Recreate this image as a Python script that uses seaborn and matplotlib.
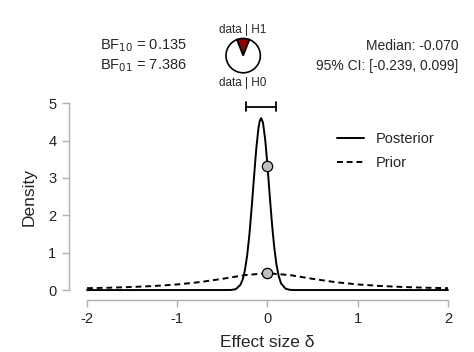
import matplotlib

matplotlib.use("Agg")
import matplotlib.pyplot as plt
import pandas as pd
import seaborn as sns

# posterior density
post_x = [-2.0, -1.0, -0.5, -0.4, -0.35, -0.3, -0.275, -0.25, -0.225, -0.2, -0.175, -0.15,
          -0.125, -0.1, -0.085, -0.07, -0.05, -0.025, 0.0, 0.025, 0.05, 0.075, 0.1, 0.125,
          0.15, 0.2, 0.25, 0.3, 0.5, 1.0, 2.0]
post_y = [0.0, 0.0, 0.0, 0.003, 0.025, 0.14, 0.28, 0.53, 0.93, 1.49, 2.21, 3.00,
          3.76, 4.33, 4.53, 4.60, 4.48, 4.02, 3.33, 2.52, 1.77, 1.14, 0.67, 0.37,
          0.18, 0.036, 0.005, 0.0, 0.0, 0.0, 0.0]

# prior density
prior_x = [-2.0, -1.75, -1.5, -1.25, -1.0, -0.75, -0.5, -0.25, 0.0,
           0.25, 0.5, 0.75, 1.0, 1.25, 1.5, 1.75, 2.0]
prior_y = [0.050, 0.063, 0.082, 0.109, 0.150, 0.212, 0.300, 0.400, 0.450,
           0.400, 0.300, 0.212, 0.150, 0.109, 0.082, 0.063, 0.050]

point_x = [0.0, 0.0]
point_y = [3.33, 0.45]

ci = [-0.239, 0.099]
median = -0.070
bf10 = 0.135
bf01 = 7.386

sns.set_style("white")
plt.rcParams["font.family"] = ["Liberation Sans", "DejaVu Sans"]

fig = plt.figure(figsize=(4.74, 3.52), dpi=100)
ax = fig.add_axes([0.1835, 0.176, 0.7616, 0.531])

post = pd.DataFrame({"x": post_x, "y": post_y})
prior = pd.DataFrame({"x": prior_x, "y": prior_y})
sns.lineplot(data=prior, x="x", y="y", ax=ax, color="black", lw=1.4,
             linestyle=(0, (3, 2)), label="Prior", clip_on=False)
sns.lineplot(data=post, x="x", y="y", ax=ax, color="black", lw=1.4,
             label="Posterior", clip_on=False)
sns.scatterplot(x=point_x, y=point_y, ax=ax, s=55, color="#bfbfbf",
                edgecolor="black", linewidth=0.9, zorder=5, clip_on=False)

# credible interval bar
ci_y = 4.9
ax.plot(ci, [ci_y, ci_y], color="black", lw=1.3, clip_on=False)
for c in ci:
    ax.plot([c, c], [ci_y - 0.12, ci_y + 0.12], color="black", lw=1.3, clip_on=False)

ax.set_xlim(-2, 2)
ax.set_ylim(0, 5)
ax.set_xticks([-2, -1, 0, 1, 2])
ax.set_xticklabels(["-2", "-1", "0", "1", "2"])
ax.set_yticks([0, 1, 2, 3, 4, 5])
for side in ["top", "right"]:
    ax.spines[side].set_visible(False)
ax.spines["left"].set_position(("outward", 13))
ax.spines["bottom"].set_position(("outward", 7))
for side in ["left", "bottom"]:
    ax.spines[side].set_color("#b0b0b0")
    ax.spines[side].set_linewidth(1.0)
ax.tick_params(axis="both", direction="out", length=5, width=1.0, color="#b0b0b0",
               labelsize=10.5, labelcolor="#222222", left=True, bottom=True, pad=4)
ax.set_xlabel("Effect size δ", fontsize=12.5, labelpad=6)
ax.set_ylabel("Density", fontsize=12.5, labelpad=8)

handles, labels = ax.get_legend_handles_labels()
ax.legend([handles[1], handles[0]], ["Posterior", "Prior"], loc="upper right",
          bbox_to_anchor=(1.0, 0.915), frameon=False, fontsize=10.5, handlelength=1.9,
          handletextpad=0.8, labelspacing=0.65)

# top text
fig.text(0.21, 0.87, "BF$_{10}$ = %.3f" % bf10, fontsize=10.5, va="center")
fig.text(0.21, 0.813, "BF$_{01}$ = %.3f" % bf01, fontsize=10.5, va="center")
fig.text(0.967, 0.87, "Median: %.3f" % median, fontsize=10, va="center", ha="right")
fig.text(0.967, 0.813, "95%% CI: [%.3f, %.3f]" % (ci[0], ci[1]), fontsize=10,
         va="center", ha="right")
fig.text(0.513, 0.915, "data | H1", fontsize=8.5, va="center", ha="center")
fig.text(0.513, 0.765, "data | H0", fontsize=8.5, va="center", ha="center")

pax = fig.add_axes([0.513 - 0.046, 0.842 - 0.061, 0.092, 0.122])
p1 = bf10 / (1 + bf10)
pax.pie([p1, 1 - p1], colors=["#8b0000", "white"], startangle=90 + p1 * 180,
        counterclock=False, wedgeprops={"edgecolor": "black", "linewidth": 1.2})
pax.set_aspect("equal")

fig.savefig("out.png", dpi=100)
